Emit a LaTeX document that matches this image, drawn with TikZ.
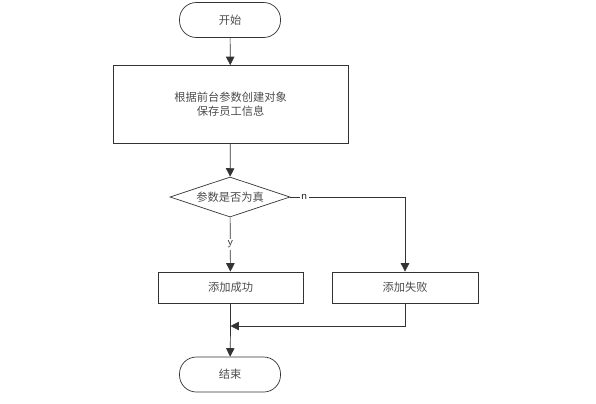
\documentclass[tikz,border=0pt]{standalone}
\usepackage{fontspec}
\newfontfamily\cjk{Noto Sans CJK SC}
\usetikzlibrary{arrows.meta,shapes.geometric,positioning}

\tikzset{
        line/.style={draw=black!80, line width=0.5pt},
        flow/.style={line, -{Triangle[length=6pt, width=6pt]}},
        term/.style={line, rounded corners=12pt, minimum width=2.525cm, minimum height=0.875cm, font=\cjk\fontsize{8}{10}\selectfont, text=black!70},
        proc/.style={line, rectangle, font=\cjk\fontsize{8}{10}\selectfont, text=black!70, align=center},
        decide/.style={line, diamond, aspect=3, inner sep=0pt, minimum width=3cm, minimum height=1cm, font=\cjk\fontsize{8}{10}\selectfont, text=black!70},
        lbl/.style={font=\sffamily\fontsize{8}{9}\selectfont, text=black!80}
}

\begin{document}
\begin{tikzpicture}[x=0.025cm, y=-0.025cm]
        \useasboundingbox (0, 0) rectangle (596, 403);
        % nodes
        \node[term] (start) at (230, 20) {开始};
        \node[proc, minimum width=5.875cm, minimum height=1.95cm] (create) at (230.5, 104.5) {根据前台参数创建对象\\保存员工信息};
        \node[decide] (check) at (230, 197) {参数是否为真};
        \node[proc, minimum width=3.625cm, minimum height=0.775cm] (ok) at (230.5, 287.5) {添加成功};
        \node[proc, minimum width=3.65cm, minimum height=0.775cm] (fail) at (405, 287.5) {添加失败};
        \node[term] (stop) at (230, 374.5) {结束};
        \coordinate (turn) at (405, 197);
        \coordinate (join) at (230.5, 326);
        % connectors
        \draw[flow] (start) -- (create);
        \draw[flow] (create) -- (check);
        \draw[flow] (check) -- node[lbl, fill=white, inner sep=1pt] {y} (ok);
        \draw[flow] (check) -- node[lbl, pos=0.12, fill=white, inner sep=1pt] {n} (turn) -- (fail);
        \draw[line] (ok) -- (join);
        \draw[flow] (join) -- (stop);
        \draw[flow] (fail.south) |- (join);
\end{tikzpicture}
\end{document}
